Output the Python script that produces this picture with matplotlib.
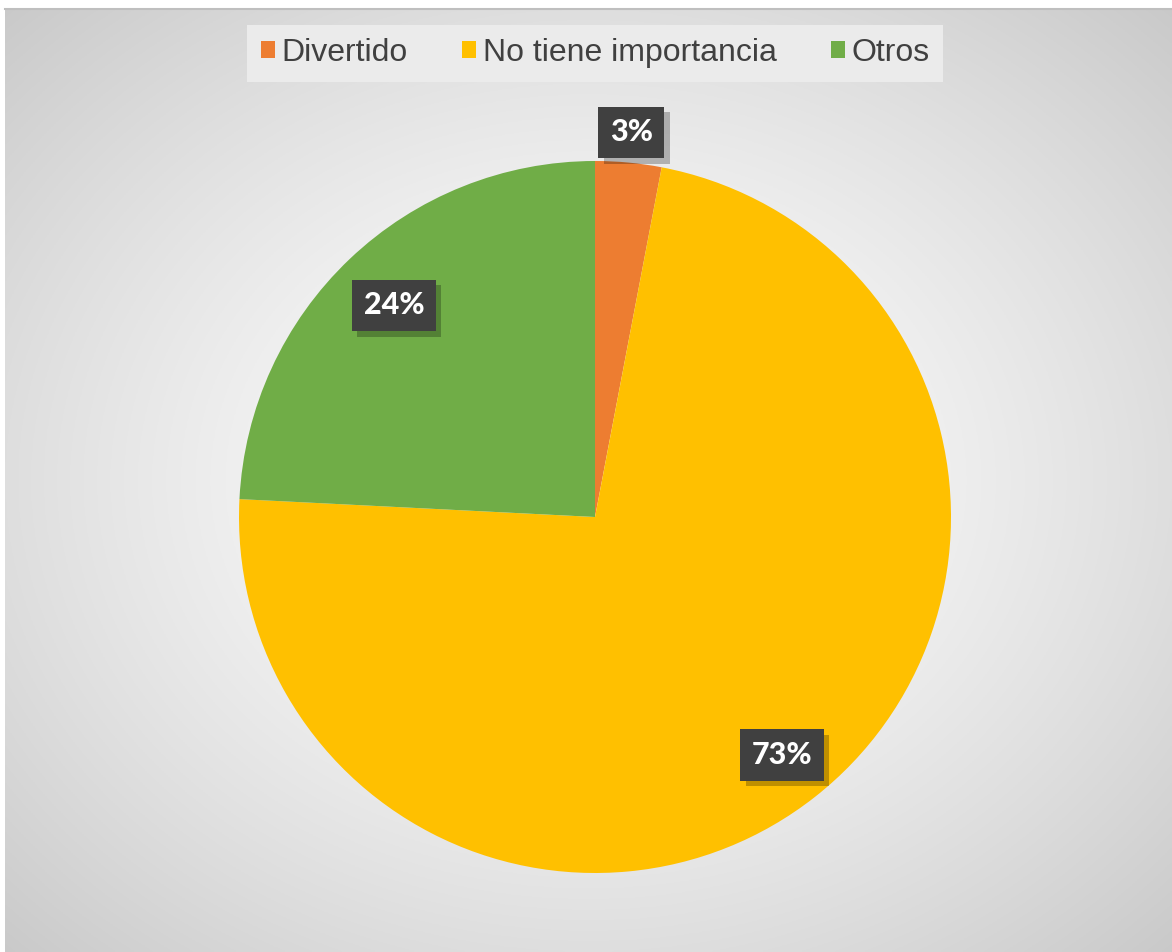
import numpy as np
import matplotlib
matplotlib.use('Agg')
import matplotlib.pyplot as plt
import matplotlib.patheffects as pe
from matplotlib.patches import Patch

# Datos del gráfico
categorias = ['Divertido', 'No tiene importancia', 'Otros']
valores = [3.0, 72.8, 24.2]
colores = ['#ed7d31', '#ffc000', '#70ad47']
# distancia de cada etiqueta al centro (fracción del radio)
dist_etiquetas = [1.085, 0.85, 0.82]

W, H = 1172, 952
fig = plt.figure(figsize=(W / 100, H / 100), dpi=100)
fig.patch.set_facecolor('white')

# Fondo con degradado radial
bg = fig.add_axes([5 / W, 0, 1 - 5 / W, 1 - 9 / H])
bg.set_axis_off()
yy, xx = np.mgrid[-1:1:400j, -1:1:500j]
r = np.sqrt(xx ** 2 + yy ** 2) / np.sqrt(2)
v = 1 - 0.21 * r ** 1.4
bg.imshow(np.dstack([v, v, v]), aspect='auto', extent=(0, 1, 0, 1))
bg.set_xlim(0, 1)
bg.set_ylim(0, 1)
bg.plot([0, 1], [1, 1], color='#bfbfbf', lw=1.5, transform=bg.transAxes, clip_on=False)

# Gráfico circular
R = 356
cx, cy = 595, 952 - 517
ax = fig.add_axes([(cx - R) / W, (cy - R) / H, 2 * R / W, 2 * R / H])
wedges, _ = ax.pie(valores, colors=colores, startangle=90, counterclock=False,
                   radius=1, wedgeprops=dict(linewidth=0))
ax.set_xlim(-1, 1)
ax.set_ylim(-1, 1)
ax.set_axis_off()

total = sum(valores)
for w, val, d in zip(wedges, valores, dist_etiquetas):
    ang = np.deg2rad((w.theta1 + w.theta2) / 2)
    t = ax.text(d * np.cos(ang), d * np.sin(ang), f'{val / total * 100:.0f}%',
                ha='center', va='center', color='white', fontsize=22,
                fontweight=900, family=['Lato', 'DejaVu Sans'],
                bbox=dict(boxstyle='square,pad=0.38', facecolor='#404040',
                          edgecolor='none'))
    t.get_bbox_patch().set_path_effects([
        pe.SimplePatchShadow(offset=(4, -4), shadow_rgbFace='black', alpha=0.25),
        pe.Normal()])

# Leyenda
handles = [Patch(facecolor=c, edgecolor='none') for c in colores]
leg = fig.legend(handles, categorias, loc='upper center', ncol=3,
                 bbox_to_anchor=(0.508, 0.974), frameon=True, fancybox=False,
                 prop=dict(family='Liberation Sans', size=23),
                 handlelength=0.45, handleheight=0.45, handletextpad=0.2,
                 columnspacing=1.7, borderpad=0.42, borderaxespad=0)
leg.get_frame().set_facecolor('#ebebeb')
leg.get_frame().set_edgecolor('none')
leg.get_frame().set_alpha(1)
for txt in leg.get_texts():
    txt.set_color('#404040')

fig.savefig('out.png', dpi=100)
